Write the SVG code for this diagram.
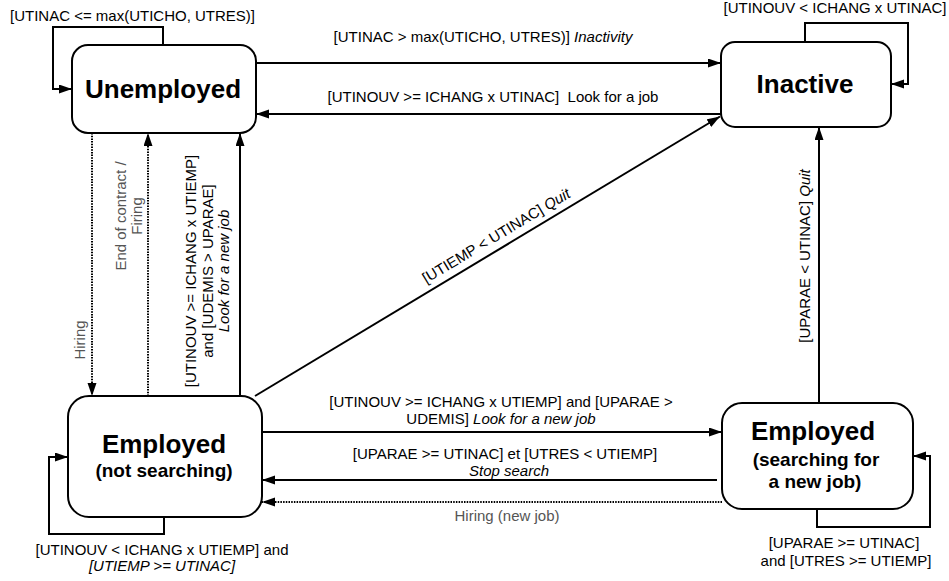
<svg xmlns="http://www.w3.org/2000/svg" width="949" height="581" viewBox="0 0 949 581">
<defs>
<marker id="ah" markerUnits="userSpaceOnUse" markerWidth="14" markerHeight="10" refX="13" refY="4.5" orient="auto">
<path d="M0,0 L13,4.5 L0,9 z" fill="#000"/>
</marker>
<style>
.box{fill:#fff;stroke:#000;stroke-width:2}
.t{font-family:"Liberation Sans",Arial,sans-serif;font-size:15px;fill:#000}
.g{fill:#555}
.i{font-style:italic}
.big{font-family:"Liberation Sans",Arial,sans-serif;font-weight:bold;font-size:26px;fill:#000;text-anchor:middle}
.sub{font-family:"Liberation Sans",Arial,sans-serif;font-weight:bold;font-size:19px;fill:#000;text-anchor:middle}
.c{fill:none;stroke:#000;stroke-width:2}
.d{fill:none;stroke:#000;stroke-width:2;stroke-dasharray:1.5,1.2}
.m{text-anchor:middle}
</style>
</defs>
<rect width="949" height="581" fill="#fff"/>
<g id="connectors">
<path class="c" d="M163,45 V27 H53 V89 H72" marker-end="url(#ah)"/>
<path class="c" d="M805,42 V23 H908 V84 H891" marker-end="url(#ah)"/>
<path class="c" d="M164,517 V534 H49 V457 H68" marker-end="url(#ah)"/>
<path class="c" d="M817,509 V527 H930 V456 H913" marker-end="url(#ah)"/>
<path class="c" d="M256,63 H721" marker-end="url(#ah)"/>
<path class="c" d="M721,114 H256" marker-end="url(#ah)"/>
<path class="c" d="M255,396 L720,116.5" marker-end="url(#ah)"/>
<path class="c" d="M819,403 V127" marker-end="url(#ah)"/>
<path class="d" d="M92,133 V396" marker-end="url(#ah)"/>
<path class="d" d="M148,396 V133" marker-end="url(#ah)"/>
<path class="c" d="M240,396 V133" marker-end="url(#ah)"/>
<path class="c" d="M262,432 H722" marker-end="url(#ah)"/>
<path class="c" d="M717,480 H262" marker-end="url(#ah)"/>
<path class="d" d="M722,502 H262" marker-end="url(#ah)"/>
</g>
<g id="labels">
<text class="t" x="10" y="21">[UTINAC &lt;= max(UTICHO, UTRES)]</text>
<text class="t m" x="835" y="13">[UTINOUV &lt; ICHANG x UTINAC]</text>
<text class="t m" x="483" y="42">[UTINAC &gt; max(UTICHO, UTRES)] <tspan class="i">Inactivity</tspan></text>
<text class="t m" x="493" y="102" xml:space="preserve">[UTINOUV &gt;= ICHANG x UTINAC]  Look for a job</text>
<g transform="translate(503,247) rotate(-31)"><text class="t m" x="0" y="-8">[UTIEMP &lt; UTINAC] <tspan class="i">Quit</tspan></text></g>
<g transform="translate(810,256) rotate(-90)"><text class="t m" x="0" y="0">[UPARAE &lt; UTINAC] <tspan class="i">Quit</tspan></text></g>
<g transform="translate(85,340) rotate(-90)"><text class="t g m" x="0" y="0">Hiring</text></g>
<g transform="translate(126,216) rotate(-90)"><text class="t g m" x="0" y="0">End of contract /</text><text class="t g m" x="0" y="16">Firing</text></g>
<g transform="translate(196,271) rotate(-90)"><text class="t m" x="0" y="0">[UTINOUV &gt;= ICHANG x UTIEMP]</text><text class="t m" x="0" y="16.5">and [UDEMIS &gt; UPARAE]</text><text class="t m i" x="0" y="33">Look for a new job</text></g>
<text class="t m" x="501" y="407">[UTINOUV &gt;= ICHANG x UTIEMP] and [UPARAE &gt;</text>
<text class="t m" x="501" y="424">UDEMIS] <tspan class="i">Look for a new job</tspan></text>
<text class="t m" x="505" y="459">[UPARAE &gt;= UTINAC] et [UTRES &lt; UTIEMP]</text>
<text class="t m i" x="509" y="476">Stop search</text>
<text class="t g m" x="507" y="521">Hiring (new job)</text>
<text class="t m" x="162" y="555">[UTINOUV &lt; ICHANG x UTIEMP] and</text>
<text class="t m i" x="162" y="571">[UTIEMP &gt;= UTINAC]</text>
<text class="t m" x="844" y="548">[UPARAE &gt;= UTINAC]</text>
<text class="t m" x="846" y="566">and [UTRES &gt;= UTIEMP]</text>
</g>
<g id="unemployed">
<rect class="box" x="72" y="45" width="184" height="88" rx="16"/>
<text class="big" x="163" y="98">Unemployed</text>
</g>
<g id="inactive">
<rect class="box" x="721" y="42" width="170" height="85" rx="14"/>
<text class="big" x="805" y="93">Inactive</text>
</g>
<g id="employed-not-searching">
<rect class="box" x="68" y="396" width="194" height="121" rx="21"/>
<text class="big" x="164" y="453">Employed</text>
<text class="sub" x="164" y="477">(not searching)</text>
</g>
<g id="employed-searching">
<rect class="box" x="722" y="403" width="191" height="106" rx="20"/>
<text class="big" x="813" y="440">Employed</text>
<text class="sub" x="816" y="466">(searching for</text>
<text class="sub" x="815" y="488">a new job)</text>
</g>
</svg>
